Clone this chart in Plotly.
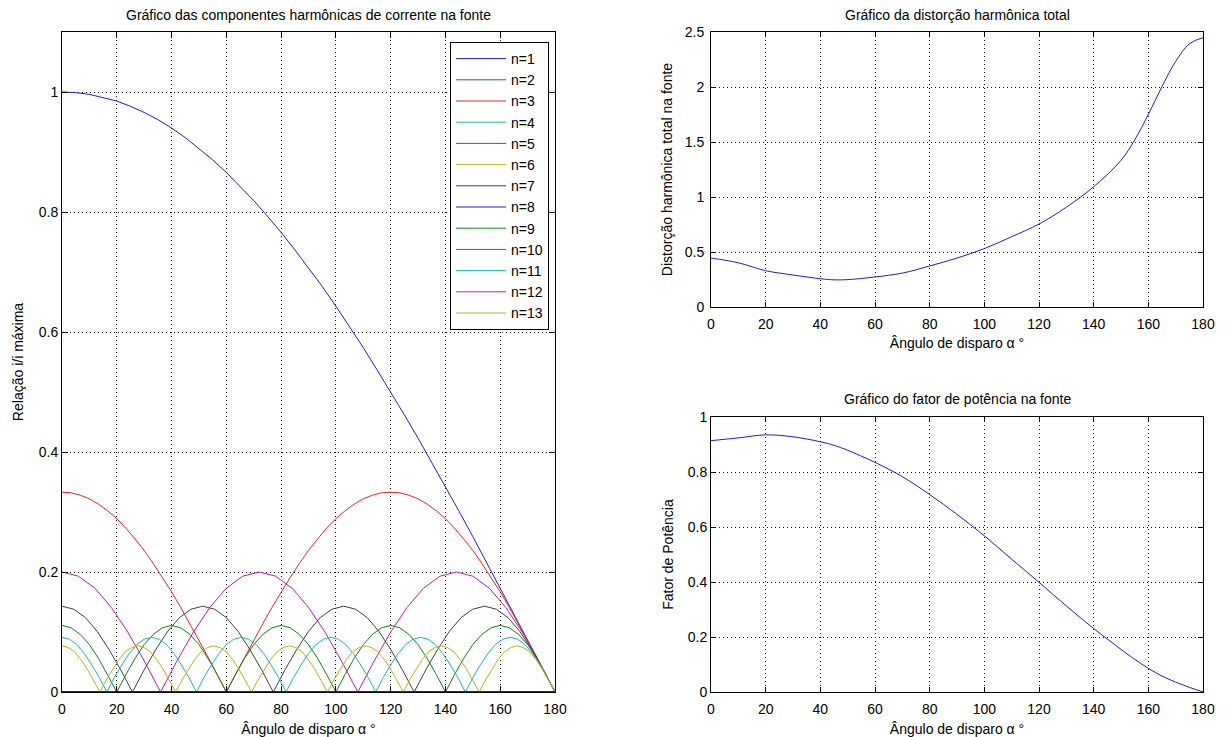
import numpy as np
import plotly.graph_objects as go

# ---------------- data ----------------
# harmonic amplitude ratio I_n / I_max versus firing angle (0..180 deg)
h1 = [1, 0.999, 0.996, 0.991, 0.985, 0.976, 0.966, 0.954, 0.940, 0.924, 0.906, 0.887,
      0.866, 0.843, 0.819, 0.793, 0.766, 0.737, 0.707, 0.676, 0.643, 0.609, 0.574, 0.537,
      0.5, 0.462, 0.423, 0.383, 0.342, 0.301, 0.259, 0.216, 0.174, 0.131, 0.087, 0.044, 0]
h3 = [0.333, 0.332, 0.328, 0.322, 0.313, 0.302, 0.289, 0.273, 0.255, 0.236, 0.214, 0.191,
      0.167, 0.141, 0.114, 0.086, 0.058, 0.029, 0,
      0.029, 0.058, 0.086, 0.114, 0.141, 0.167, 0.191, 0.214, 0.236, 0.255, 0.273, 0.289,
      0.302, 0.313, 0.322, 0.328, 0.332, 0.333,
      0.332, 0.328, 0.322, 0.313, 0.302, 0.289, 0.273, 0.255, 0.236, 0.214, 0.191, 0.167,
      0.141, 0.114, 0.086, 0.058, 0.029, 0]
h5 = [0.2, 0.193, 0.173, 0.141, 0.1, 0.052, 0,
      0.052, 0.1, 0.141, 0.173, 0.193, 0.2,
      0.193, 0.173, 0.141, 0.1, 0.052, 0,
      0.052, 0.1, 0.141, 0.173, 0.193, 0.2,
      0.193, 0.173, 0.141, 0.1, 0.052, 0]
h7 = [0.143, 0.138, 0.124, 0.101, 0.071, 0.037, 0,
      0.037, 0.071, 0.101, 0.124, 0.138, 0.143,
      0.138, 0.124, 0.101, 0.071, 0.037, 0,
      0.037, 0.071, 0.101, 0.124, 0.138, 0.143,
      0.138, 0.124, 0.101, 0.071, 0.037, 0,
      0.037, 0.071, 0.101, 0.124, 0.138, 0.143,
      0.138, 0.124, 0.101, 0.071, 0.037, 0]
h9 = [0.111, 0.107, 0.096, 0.079, 0.056, 0.029, 0,
      0.029, 0.056, 0.079, 0.096, 0.107, 0.111,
      0.107, 0.096, 0.079, 0.056, 0.029, 0,
      0.029, 0.056, 0.079, 0.096, 0.107, 0.111,
      0.107, 0.096, 0.079, 0.056, 0.029, 0,
      0.029, 0.056, 0.079, 0.096, 0.107, 0.111,
      0.107, 0.096, 0.079, 0.056, 0.029, 0,
      0.029, 0.056, 0.079, 0.096, 0.107, 0.111,
      0.107, 0.096, 0.079, 0.056, 0.029, 0]
h11 = [0.091, 0.088, 0.079, 0.064, 0.045, 0.024, 0,
       0.024, 0.045, 0.064, 0.079, 0.088, 0.091,
       0.088, 0.079, 0.064, 0.045, 0.024, 0,
       0.024, 0.045, 0.064, 0.079, 0.088, 0.091,
       0.088, 0.079, 0.064, 0.045, 0.024, 0,
       0.024, 0.045, 0.064, 0.079, 0.088, 0.091,
       0.088, 0.079, 0.064, 0.045, 0.024, 0,
       0.024, 0.045, 0.064, 0.079, 0.088, 0.091,
       0.088, 0.079, 0.064, 0.045, 0.024, 0,
       0.024, 0.045, 0.064, 0.079, 0.088, 0.091,
       0.088, 0.079, 0.064, 0.045, 0.024, 0]
h13 = [0.077, 0.074, 0.067, 0.054, 0.038, 0.020, 0,
       0.020, 0.038, 0.054, 0.067, 0.074, 0.077,
       0.074, 0.067, 0.054, 0.038, 0.020, 0,
       0.020, 0.038, 0.054, 0.067, 0.074, 0.077,
       0.074, 0.067, 0.054, 0.038, 0.020, 0,
       0.020, 0.038, 0.054, 0.067, 0.074, 0.077,
       0.074, 0.067, 0.054, 0.038, 0.020, 0,
       0.020, 0.038, 0.054, 0.067, 0.074, 0.077,
       0.074, 0.067, 0.054, 0.038, 0.020, 0,
       0.020, 0.038, 0.054, 0.067, 0.074, 0.077,
       0.074, 0.067, 0.054, 0.038, 0.020, 0,
       0.020, 0.038, 0.054, 0.067, 0.074, 0.077,
       0.074, 0.067, 0.054, 0.038, 0.020, 0]
h_even = [0, 0]  # even harmonics are null

harmonics = {1: h1, 2: h_even, 3: h3, 4: h_even, 5: h5, 6: h_even, 7: h7,
             8: h_even, 9: h9, 10: h_even, 11: h11, 12: h_even, 13: h13}

# total harmonic distortion and power factor at the source
alpha_q = [0, 10, 20, 30, 40, 45, 50, 60, 70, 80, 90, 100, 110, 120, 130, 140,
           150, 155, 160, 165, 170, 175, 180]
thd = [0.445, 0.402, 0.330, 0.291, 0.257, 0.247, 0.249, 0.273, 0.308, 0.373, 0.445,
       0.531, 0.639, 0.754, 0.907, 1.093, 1.333, 1.518, 1.750, 2.004, 2.233, 2.393, 2.449]
pf = [0.914, 0.924, 0.935, 0.928, 0.910, 0.897, 0.879, 0.835, 0.783, 0.718, 0.646,
      0.568, 0.483, 0.399, 0.313, 0.231, 0.155, 0.119, 0.086, 0.058, 0.036, 0.017, 0]

x_ticks = [0, 20, 40, 60, 80, 100, 120, 140, 160, 180]

# MATLAB default colour order (slightly toned like the reference render)
colors = ["#1f1fc8", "#1a7a1a", "#e02828", "#1fb4b4", "#b41fb4", "#b4b41f", "#404040"]

FONT = "Arial, Liberation Sans, sans-serif"
W, H = 1227, 737

fig = go.Figure()

for n, ys in harmonics.items():
    xs = np.linspace(0, 180, len(ys))
    fig.add_trace(go.Scatter(
        x=xs, y=ys, mode="lines", name=f"n={n}",
        line=dict(color=colors[(n - 1) % 7], width=1),
        xaxis="x", yaxis="y", showlegend=True))

fig.add_trace(go.Scatter(x=alpha_q, y=thd, mode="lines", line=dict(color=colors[0], width=1, shape="spline"),
                         xaxis="x2", yaxis="y2", showlegend=False))
fig.add_trace(go.Scatter(x=alpha_q, y=pf, mode="lines", line=dict(color=colors[0], width=1, shape="spline"),
                         xaxis="x3", yaxis="y3", showlegend=False))


def px_x(p):
    return p / W


def px_y(p):
    return 1 - p / H


common = dict(showline=True, linecolor="black", linewidth=1, mirror="ticks",
              ticks="inside", tickcolor="black", showgrid=True, gridcolor="#111111",
              griddash="1px,3px", gridwidth=1, zeroline=False, automargin=False,
              tickfont=dict(family=FONT, size=14, color="black"))

tfont = dict(family=FONT, size=14, color="black")


def xtitle(standoff):
    return dict(text="Ângulo de disparo α °", font=tfont, standoff=standoff)


fig.update_layout(
    width=W, height=H, autosize=False,
    margin=dict(l=0, r=0, t=0, b=0),
    paper_bgcolor="white", plot_bgcolor="white",
    font=tfont,
    xaxis=dict(domain=[px_x(62), px_x(555)], anchor="y", range=[0, 180], tickvals=x_ticks,
               ticklen=6, ticklabelstandoff=4, title=xtitle(10), **common),
    yaxis=dict(domain=[px_y(692), px_y(32)], anchor="x", range=[0, 1.1], tickvals=[0, 0.2, 0.4, 0.6, 0.8, 1],
               ticklen=6, title=dict(text="Relação i/i máxima", font=tfont, standoff=11),
               **common),
    xaxis2=dict(domain=[px_x(711), px_x(1203)], anchor="y2", range=[0, 180], tickvals=x_ticks,
                ticklen=5, ticklabelstandoff=4, title=xtitle(7), **common),
    yaxis2=dict(domain=[px_y(307), px_y(32)], anchor="x2", range=[0, 2.5], tickvals=[0, 0.5, 1, 1.5, 2, 2.5],
                ticklen=5, ticklabelstandoff=3,
                title=dict(text="Distorção harmônica total na fonte", font=tfont, standoff=8),
                **common),
    xaxis3=dict(domain=[px_x(711), px_x(1203)], anchor="y3", range=[0, 180], tickvals=x_ticks,
                ticklen=5, ticklabelstandoff=4, title=xtitle(10), **common),
    yaxis3=dict(domain=[px_y(692), px_y(417)], anchor="x3", range=[0, 1], tickvals=[0, 0.2, 0.4, 0.6, 0.8, 1],
                ticklen=5, title=dict(text="Fator de Potência", font=tfont, standoff=10),
                **common),
    legend=dict(x=px_x(549), y=px_y(42), xanchor="right", yanchor="top",
                bgcolor="white", bordercolor="black", borderwidth=1,
                itemwidth=50, font=tfont),
    showlegend=True,
)

# axis line drawn over the (null) even-harmonic traces, as MATLAB does
fig.add_shape(type="line", xref="x domain", yref="y domain", x0=0, x1=1, y0=0, y1=0,
              line=dict(color="black", width=1), layer="above")

titles = [
    ("Gráfico das componentes harmônicas de corrente na fonte", (62 + 555) / 2, 15),
    ("Gráfico da distorção harmônica total", (711 + 1203) / 2, 15),
    ("Gráfico do fator de potência na fonte", (711 + 1203) / 2, 399),
]
for text, cx, cy in titles:
    fig.add_annotation(text=text, x=px_x(cx), y=px_y(cy), xref="paper", yref="paper",
                       xanchor="center", yanchor="middle", showarrow=False, font=tfont)

fig.write_html("out.html",
               post_script="document.body.style.margin='0';document.body.style.overflow='hidden';")
